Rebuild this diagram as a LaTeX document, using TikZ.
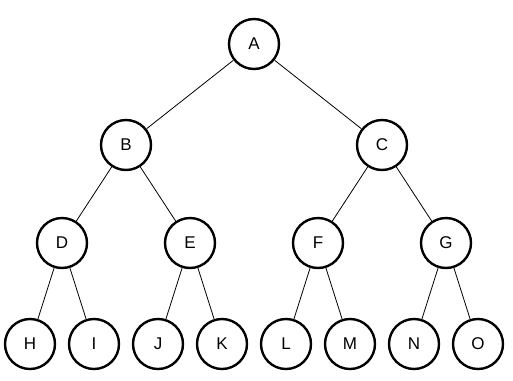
\documentclass[tikz,border=0pt]{standalone}
\usepackage{fontspec}
\setmainfont{Liberation Sans}
\begin{document}
\begin{tikzpicture}[x=1pt,y=-1pt,
  vtx/.style={circle,draw,line width=2.4pt,minimum size=50pt,inner sep=0pt,font=\fontsize{17}{20}\selectfont,fill=white},
  edge/.style={line width=0.8pt}]
\useasboundingbox (0,0) rectangle (513,380);
\node[vtx] (A) at (254,44) {A};
\node[vtx] (B) at (126,145) {B};
\node[vtx] (C) at (382,145) {C};
\node[vtx] (D) at (62,243) {D};
\node[vtx] (E) at (190,243) {E};
\node[vtx] (F) at (318,243) {F};
\node[vtx] (G) at (446,243) {G};
\node[vtx] (H) at (30,344) {H};
\node[vtx] (I) at (94,344) {I};
\node[vtx] (J) at (158,344) {J};
\node[vtx] (K) at (222,344) {K};
\node[vtx] (L) at (286,344) {L};
\node[vtx] (M) at (350,344) {M};
\node[vtx] (N) at (414,344) {N};
\node[vtx] (O) at (478,344) {O};
\draw[edge] (A) -- (B);
\draw[edge] (A) -- (C);
\draw[edge] (B) -- (D);
\draw[edge] (B) -- (E);
\draw[edge] (C) -- (F);
\draw[edge] (C) -- (G);
\draw[edge] (D) -- (H);
\draw[edge] (D) -- (I);
\draw[edge] (E) -- (J);
\draw[edge] (E) -- (K);
\draw[edge] (F) -- (L);
\draw[edge] (F) -- (M);
\draw[edge] (G) -- (N);
\draw[edge] (G) -- (O);
\end{tikzpicture}
\end{document}
